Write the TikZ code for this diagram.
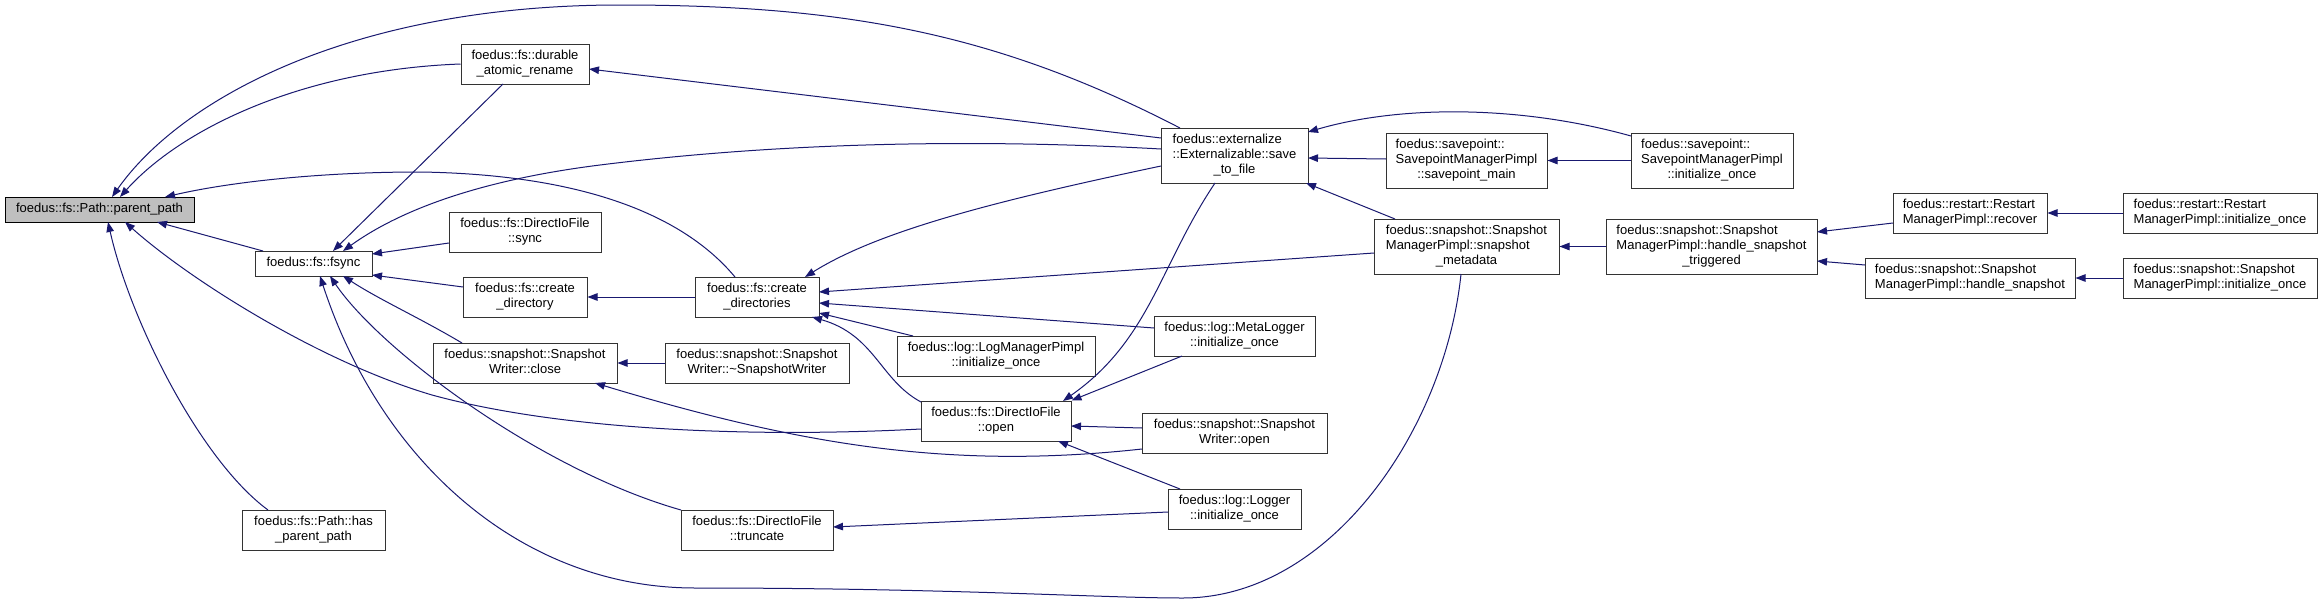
\documentclass[tikz,border=0pt]{standalone}
\usepackage{fontspec}
\setmainfont{Liberation Sans}
\usetikzlibrary{arrows.meta}
\definecolor{edgeblue}{HTML}{191970}
\definecolor{rootgray}{HTML}{BFBFBF}
\definecolor{boxborder}{HTML}{333333}
\newcommand{\twol}[2]{\begin{tabular}{@{}l@{}}#1\\\multicolumn{1}{@{}c@{}}{#2}\end{tabular}}
\newcommand{\threel}[3]{\begin{tabular}{@{}l@{}}#1\\#2\\\multicolumn{1}{@{}c@{}}{#3}\end{tabular}}
\tikzset{
  fbox/.style={draw=boxborder, fill=white, line width=1pt, inner sep=0pt, text=black,
    font=\fontsize{13}{15}\selectfont},
  rootbox/.style={fbox, draw=black, fill=rootgray},
  call/.style={draw=edgeblue, line width=1pt, -{Triangle[length=10pt,width=7.5pt]}}
}
\begin{document}
\begin{tikzpicture}[x=1pt,y=-1pt]
\fill[white] (0,0) rectangle (2324,605);
\useasboundingbox (0,0) rectangle (2324,605);

% nodes
\node[rootbox, minimum width=189pt, minimum height=25pt] (pp) at (99.5,209.5) {foedus::fs::Path::parent\_path};
\node[fbox, minimum width=128pt, minimum height=40pt] (dar) at (525,64) {\twol{foedus::fs::durable}{\_atomic\_rename}};
\node[fbox, minimum width=117pt, minimum height=25pt] (fsync) at (313.5,263.5) {foedus::fs::fsync};
\node[fbox, minimum width=152pt, minimum height=40pt] (sync) at (525,232) {\twol{foedus::fs::DirectIoFile}{::sync}};
\node[fbox, minimum width=124pt, minimum height=40pt] (cdir) at (525,297) {\twol{foedus::fs::create}{\_directory}};
\node[fbox, minimum width=124pt, minimum height=40pt] (cdirs) at (757,297) {\twol{foedus::fs::create}{\_directories}};
\node[fbox, minimum width=184pt, minimum height=40pt] (close) at (525,363) {\twol{foedus::snapshot::Snapshot}{Writer::close}};
\node[fbox, minimum width=184pt, minimum height=40pt] (dtor) at (757,363) {\twol{foedus::snapshot::Snapshot}{Writer::\textasciitilde SnapshotWriter}};
\node[fbox, minimum width=143pt, minimum height=40pt] (hpp) at (313.5,530) {\twol{foedus::fs::Path::has}{\_parent\_path}};
\node[fbox, minimum width=152pt, minimum height=40pt] (trunc) at (757,530) {\twol{foedus::fs::DirectIoFile}{::truncate}};
\node[fbox, minimum width=150pt, minimum height=40pt] (open) at (996,421) {\twol{foedus::fs::DirectIoFile}{::open}};
\node[fbox, minimum width=198pt, minimum height=40pt] (lmp) at (996,356) {\twol{foedus::log::LogManagerPimpl}{::initialize\_once}};
\node[fbox, minimum width=147pt, minimum height=55pt] (stf) at (1234.5,155.5) {\threel{foedus::externalize}{::Externalizable::save}{\_to\_file}};
\node[fbox, minimum width=161pt, minimum height=40pt] (meta) at (1234.5,336) {\twol{foedus::log::MetaLogger}{::initialize\_once}};
\node[fbox, minimum width=185pt, minimum height=40pt] (swopen) at (1234.5,433) {\twol{foedus::snapshot::Snapshot}{Writer::open}};
\node[fbox, minimum width=133pt, minimum height=40pt] (logger) at (1234.5,509) {\twol{foedus::log::Logger}{::initialize\_once}};
\node[fbox, minimum width=161pt, minimum height=55pt] (spmain) at (1466.5,160.5) {\threel{foedus::savepoint::}{SavepointManagerPimpl}{::savepoint\_main}};
\node[fbox, minimum width=185pt, minimum height=55pt] (smeta) at (1466.5,246.5) {\threel{foedus::snapshot::Snapshot}{ManagerPimpl::snapshot}{\_metadata}};
\node[fbox, minimum width=162pt, minimum height=55pt] (spinit) at (1712,160.5) {\threel{foedus::savepoint::}{SavepointManagerPimpl}{::initialize\_once}};
\node[fbox, minimum width=211pt, minimum height=55pt] (hst) at (1711.5,246.5) {\threel{foedus::snapshot::Snapshot}{ManagerPimpl::handle\_snapshot}{\_triggered}};
\node[fbox, minimum width=154pt, minimum height=40pt] (recover) at (1970,213) {\twol{foedus::restart::Restart}{ManagerPimpl::recover}};
\node[fbox, minimum width=210pt, minimum height=40pt] (hs) at (1970,278) {\twol{foedus::snapshot::Snapshot}{ManagerPimpl::handle\_snapshot}};
\node[fbox, minimum width=194pt, minimum height=40pt] (rinit) at (2220,213) {\twol{foedus::restart::Restart}{ManagerPimpl::initialize\_once}};
\node[fbox, minimum width=194pt, minimum height=40pt] (sinit) at (2220,278) {\twol{foedus::snapshot::Snapshot}{ManagerPimpl::initialize\_once}};

% edges into parent_path
\draw[call] ([shift={(-54.5,-27.5)}]stf.center) .. controls (1000,35) and (850,5) .. (620,5) .. controls (350,5) and (180,100) .. ([shift={(12.5,-12.5)}]pp.center);
\draw[call] (dar.west) .. controls (300,70) and (180,130) .. ([shift={(20.5,-12.5)}]pp.center);
\draw[call] ([shift={(-22,-20)}]cdirs.center) .. controls (700,235) and (620,175) .. (420,172) .. controls (320,172) and (230,182) .. ([shift={(65.5,-12.5)}]pp.center);
\draw[call] ([shift={(-50.5,-12.5)}]fsync.center) -- ([shift={(57.5,12.5)}]pp.center);
\draw[call] ([shift={(-75,8)}]open.center) .. controls (750,438) and (560,430) .. (432,395) .. controls (320,362) and (190,280) .. ([shift={(25.5,12.5)}]pp.center);
\draw[call] ([shift={(-45.5,-20)}]hpp.center) .. controls (200,460) and (130,320) .. ([shift={(8.5,12.5)}]pp.center);

% edges into fsync
\draw[call] ([shift={(-22,20)}]dar.center) -- ([shift={(19.5,-12.5)}]fsync.center);
\draw[call] ([shift={(-73.5,-6.5)}]stf.center) .. controls (1000,140) and (800,140) .. (600,165) .. controls (480,180) and (400,210) .. ([shift={(29.5,-12.5)}]fsync.center);
\draw[call] ([shift={(-76,11)}]sync.center) -- ([shift={(58.5,-9.5)}]fsync.center);
\draw[call] ([shift={(-62,-10)}]cdir.center) -- ([shift={(58.5,11.5)}]fsync.center);
\draw[call] ([shift={(-63,-20)}]close.center) .. controls (420,318) and (380,300) .. ([shift={(29.5,12.5)}]fsync.center);
\draw[call] ([shift={(-76,-20)}]trunc.center) .. controls (540,470) and (380,350) .. ([shift={(16.5,12.5)}]fsync.center);
\draw[call] ([shift={(-5.5,27.5)}]smeta.center) .. controls (1445,430) and (1330,598) .. (1183,598) .. controls (1100,598) and (950,588) .. (695,588) .. controls (520,588) and (380,460) .. ([shift={(6.5,12.5)}]fsync.center);

% other edges
\draw[call] ([shift={(-73.5,-17.5)}]stf.center) -- ([shift={(64,5)}]dar.center);
\draw[call] ([shift={(-71.5,-27.5)}]smeta.center) -- ([shift={(71.5,27.5)}]stf.center);
\draw[call] ([shift={(-80.5,-1.5)}]spmain.center) -- ([shift={(73.5,2.5)}]stf.center);
\draw[call] ([shift={(-81,-24.5)}]spinit.center) .. controls (1520,105) and (1400,105) .. ([shift={(73.5,-23.5)}]stf.center);
\draw[call] (spinit.west) -- (spmain.east);
\draw[call] ([shift={(-19.5,27.5)}]stf.center) .. controls (1160,265) and (1150,340) .. ([shift={(67,-20)}]open.center);
\draw[call] ([shift={(-52.5,20)}]meta.center) -- (open.north east);
\draw[call] ([shift={(-73.5,10.5)}]stf.center) .. controls (1000,200) and (880,230) .. ([shift={(48,-20)}]cdirs.center);
\draw[call] ([shift={(-92.5,6.5)}]smeta.center) -- ([shift={(62,-5)}]cdirs.center);
\draw[call] ([shift={(-80.5,-8)}]meta.center) -- ([shift={(62,6)}]cdirs.center);
\draw[call] ([shift={(-83,-20)}]lmp.center) -- ([shift={(62,16)}]cdirs.center);
\draw[call] ([shift={(-75,-19)}]open.center) .. controls (880,380) and (875,335) .. ([shift={(55,20)}]cdirs.center);
\draw[call] (cdirs.west) -- (cdir.east);
\draw[call] (dtor.west) -- (close.east);
\draw[call] ([shift={(-92.5,16)}]swopen.center) .. controls (950,470) and (800,445) .. ([shift={(70,20)}]close.center);
\draw[call] ([shift={(-92.5,-5)}]swopen.center) -- ([shift={(75,5)}]open.center);
\draw[call] ([shift={(-54.5,-20)}]logger.center) -- ([shift={(62,20)}]open.center);
\draw[call] ([shift={(-66.5,3)}]logger.center) -- ([shift={(76,-3)}]trunc.center);
\draw[call] (hst.west) -- (smeta.east);
\draw[call] ([shift={(-77,10)}]recover.center) -- ([shift={(105.5,-14.5)}]hst.center);
\draw[call] ([shift={(-105,-13)}]hs.center) -- ([shift={(105.5,14.5)}]hst.center);
\draw[call] (rinit.west) -- (recover.east);
\draw[call] (sinit.west) -- (hs.east);
\end{tikzpicture}
\end{document}
